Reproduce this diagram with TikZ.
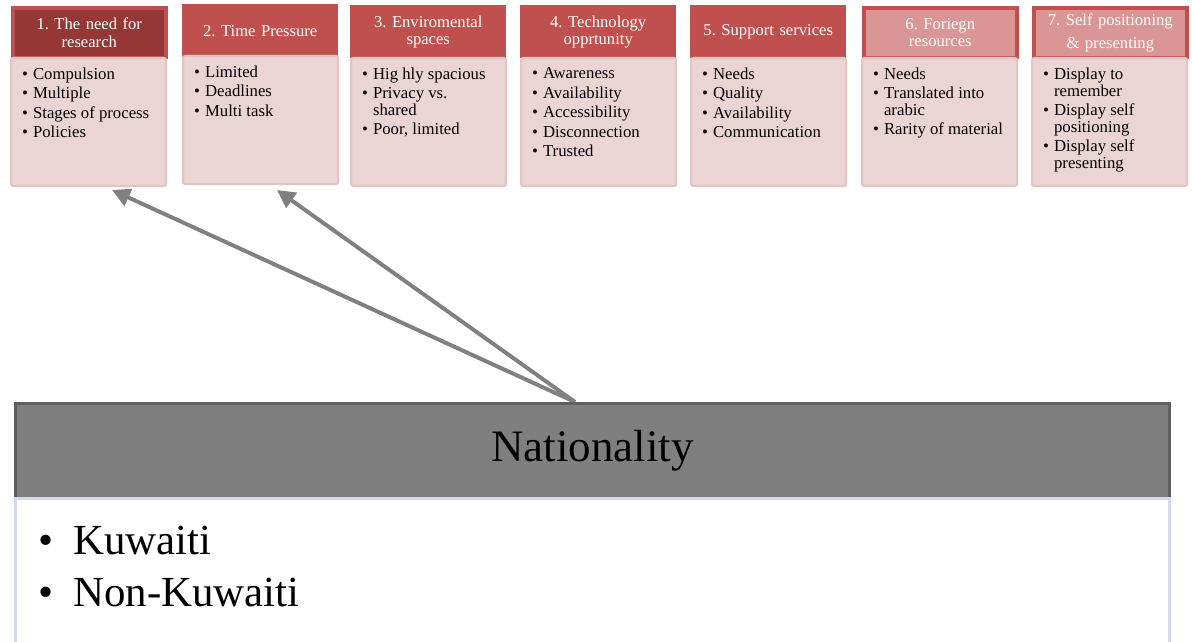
\documentclass[tikz,border=0pt]{standalone}
\usepackage{fontspec}
\setmainfont{Liberation Serif}
\usepackage{enumitem}
\usetikzlibrary{arrows.meta}

\definecolor{headred}{HTML}{C0504D}
\definecolor{headdark}{HTML}{953735}
\definecolor{headpale}{HTML}{D99694}
\definecolor{bodypink}{HTML}{EAD4D4}
\definecolor{bodyedge}{HTML}{E2C4C4}
\definecolor{natgray}{HTML}{7F7F7F}
\definecolor{natedge}{HTML}{5F5F5F}
\definecolor{natblue}{HTML}{D3DBEA}
\definecolor{linkgray}{HTML}{808080}

% small bullet list inside a factor box
\newcommand{\factorlist}[1]{%
  \begin{minipage}[t][3.2cm][t]{3.875cm}\raggedright
  \vspace*{7pt}
  \begin{itemize}[leftmargin=0.55cm,labelsep=0.13cm,itemsep=2pt,topsep=0pt,parsep=0pt,partopsep=0pt]
  #1
  \end{itemize}
  \end{minipage}}
% big bullet list under the nationality bar
\newcommand{\natlist}[1]{%
  \begin{minipage}[t][4cm][t]{28.85cm}\raggedright
  \vspace*{20pt}
  \begin{itemize}[leftmargin=1.45cm,labelsep=0.5cm,itemsep=0pt,topsep=0pt,parsep=0pt,partopsep=0pt]
  #1
  \end{itemize}
  \end{minipage}}

\begin{document}
\frenchspacing
\begin{tikzpicture}[x=0.025cm, y=-0.025cm,
    headbox/.style={anchor=north west, minimum width=3.875cm, minimum height=1.3cm,
      inner sep=0pt, text width=3.75cm, align=center, text=white,
      fill=headred, draw=headred, line width=1pt,
      font=\fontsize{11.8}{12.2}\selectfont},
    thickhead/.style={headbox, line width=2.5pt, minimum width=3.875cm-1.5pt,
      minimum height=1.3cm-1.5pt, xshift=0.75pt, yshift=-0.75pt},
    bodybox/.style={anchor=north west, inner sep=0pt, fill=bodypink, draw=bodyedge,
      line width=1.5pt, rounded corners=1.5pt,
      font=\fontsize{11.9}{11.8}\selectfont},
    natbar/.style={anchor=north west, minimum width=28.85cm, minimum height=2.375cm,
      fill=natgray, draw=natedge, line width=2pt,
      font=\fontsize{32}{38}\selectfont},
    natbody/.style={anchor=north west, inner sep=0pt, fill=white, draw=natblue,
      line width=2pt, font=\fontsize{30.5}{36.5}\selectfont},
    link/.style={draw=linkgray, line width=2.8pt,
      -{Triangle[length=0.45cm,width=0.45cm]}}]
  \useasboundingbox (0,0) rectangle (1192,642);

  % factor boxes
  \node[thickhead, fill=headdark] (h1) at (10,5) {1. The need for\\research};
  \node[bodybox] (b1) at (10,57) {\factorlist{\item Compulsion \item Multiple
    \item Stages of process \item Policies}};

  \node[headbox] (h2) at (182,4) {2. Time Pressure};
  \node[bodybox] (b2) at (182,55) {\factorlist{\item Limited \item Deadlines \item Multi task}};

  \node[headbox] (h3) at (350,5) {3. Enviromental\\spaces};
  \node[bodybox] (b3) at (350,57) {\factorlist{\item Hig hly spacious
    \item Privacy vs.\\shared \item Poor, limited}};

  \node[headbox] (h4) at (520,5) {4. Technology\\opprtunity};
  \node[bodybox] (b4) at (520,57) {\factorlist{\item Awareness \item Availability
    \item Accessibility \item Disconnection \item Trusted}};

  \node[headbox] (h5) at (690,5) {5. Support services};
  \node[bodybox] (b5) at (690,57) {\factorlist{\item Needs \item Quality
    \item Availability \item Communication}};

  \node[thickhead, fill=headpale] (h6) at (861,5) {6. Foriegn\\resources};
  \node[bodybox] (b6) at (861,57) {\factorlist{\item Needs \item Translated into\\arabic
    \item Rarity of material}};

  \node[thickhead, fill=headpale] (h7) at (1031,5) {7. Self positioning\\[4pt]\& presenting};
  \node[bodybox] (b7) at (1031,57) {\factorlist{\item Display to\\remember
    \item Display self\\positioning \item Display self\\presenting}};

  % arrows up from nationality
  \coordinate (src) at (575,402);
  \coordinate (tip1) at (112,190);
  \coordinate (tip2) at (277,190);
  \draw[link] (src) -- (tip1);
  \draw[link] (src) -- (tip2);

  % nationality
  \node[natbar] (nat) at (14,402) {Nationality};
  \node[natbody] (natl) at (14,497) {\natlist{\item Kuwaiti \item Non-Kuwaiti}};
\end{tikzpicture}
\end{document}
